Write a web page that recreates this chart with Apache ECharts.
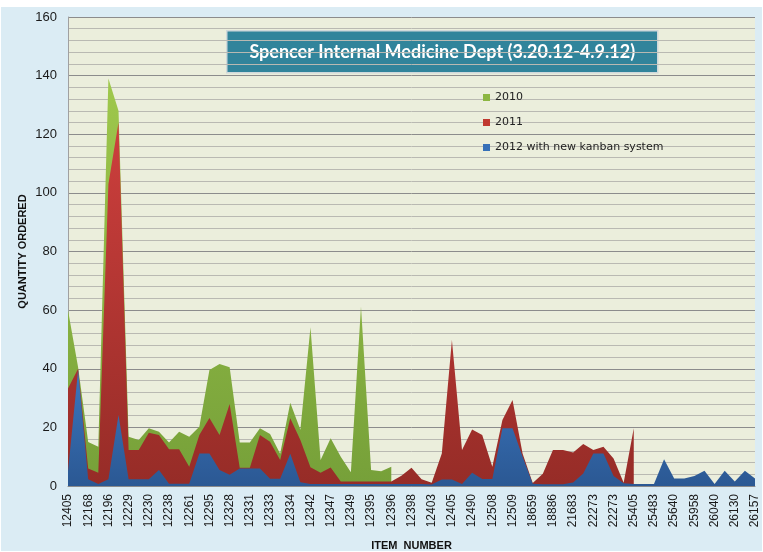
<!DOCTYPE html>
<html>
<head>
<meta charset="utf-8">
<script src="https://cdn.jsdelivr.net/npm/echarts@6/dist/echarts.min.js"></script>
<style>
html,body{margin:0;padding:0;background:#ffffff;}
#chart{width:763px;height:552px;}
</style>
</head>
<body>
<div id="chart"></div>
<script>
// Tick labels shown on the x axis (every other item)
var tickLabels = ['12405','12168','12196','12229','12230','12238','12261','12295','12328','12331','12333','12334','12342','12347','12349','12395','12396','12398','12403','12405','12490','12508','12509','18659','18886','21683','22273','22273','25405','25483','25640','25958','26040','26130','26157'];

var seriesNames = ['2010', '2011', '2012 with new kanban system'];

// 2010 values (ends at item index 32)
var values2010 = [60,40.5,15,13.4,139,128,16.8,15.7,19.7,18.5,14.8,18.5,16.8,20.2,39.6,41.6,40.5,14.8,14.8,19.7,17.7,11,28.4,19.2,54.2,8.9,16.3,10,4.7,61.2,5.5,5,6.6];

// 2011 values (ends at item index 56)
var values2011 = [33.3,40,6,4.5,103,124,12.3,12.3,18.2,17.4,12.5,12.5,6.6,17.4,23.2,17.4,28,6.2,6.2,17.4,15.1,8.9,23.1,15.7,6.4,4.5,6.3,1.5,1.5,1.5,1.5,1.5,1.5,3.5,6.2,2.3,1.1,11.1,49.8,12.3,19.3,17.4,6.6,22.5,29.3,11,1,4.2,12.3,12.3,11.4,14.3,12.3,13.4,9.4,1.1,19.7];

// 2012 values
var values2012 = [5,39.6,2.3,0.7,2.3,24.2,2.3,2.3,2.3,5.5,0.8,0.8,0.8,11.1,11.1,5.5,3.8,6,6,6,2.5,2.5,11,1.3,0.7,0.7,0.7,0.7,0.7,0.7,0.7,0.7,0.7,0.7,0.7,0.7,0.5,2.2,2.2,0.7,4.5,2.4,2.4,19.7,19.7,10,0.8,0.6,0.6,0.6,1.2,4.3,11.1,11.1,3.4,0.9,0.7,0.7,0.7,9.1,2.6,2.6,3.4,5.2,0.7,5.2,1.5,5.2,2.6];

// Build category list: labelled item, then unlabelled item in between
var nCat = values2012.length;
var categories = [];
for (var i = 0; i < nCat; i++) {
  categories.push(i % 2 === 0 ? tickLabels[i / 2] : '');
}
function pad(arr) {
  var out = arr.slice();
  while (out.length < nCat) out.push(null);
  return out;
}

function grad(top, bottom) {
  return {type:'linear', x:0, y:0, x2:0, y2:1, colorStops:[{offset:0, color:top},{offset:1, color:bottom}]};
}

var chart = echarts.init(document.getElementById('chart'));
chart.setOption({
  animation: false,
  backgroundColor: '#ffffff',
  graphic: [
    {type:'rect', z:-10, shape:{x:1, y:7, width:761, height:544}, style:{fill:'#dbecf4'}},
    {type:'group', left:226, top:30, z:100, children:[
      {type:'rect', shape:{x:0, y:0, width:431, height:42}, style:{fill:'#31849b', stroke:'#cfd8da', lineWidth:1.5}},
      {type:'text', x:215.5, y:21, style:{text:'Spencer Internal Medicine Dept (3.20.12-4.9.12)', fill:'#ffffff', font:'bold 18px Lato', textAlign:'center', textVerticalAlign:'middle'}}
    ]}
  ],
  legend: {
    data: seriesNames,
    orient: 'vertical',
    left: 478,
    top: 86,
    itemWidth: 7,
    itemHeight: 7,
    itemGap: 12,
    icon: 'rect',
    textStyle: {fontFamily: 'DejaVu Sans', fontSize: 11, color: '#222222', lineHeight: 13}
  },
  grid: {
    left: 68, right: 8, top: 17, bottom: 66,
    containLabel: false,
    outerBoundsMode: 'none',
    show: true, backgroundColor: '#ebeedc', borderWidth: 0
  },
  xAxis: {
    type: 'category',
    data: categories,
    boundaryGap: false,
    name: 'ITEM  NUMBER',
    nameLocation: 'middle',
    nameGap: 54,
    nameTextStyle: {fontFamily: 'Liberation Sans', fontWeight: 'bold', fontSize: 11, color: '#111111'},
    axisLine: {show: true, lineStyle: {color: '#8a8a8a'}},
    axisTick: {show: false},
    axisLabel: {interval: 0, rotate: 90, margin: 8, fontFamily: 'Liberation Sans', fontSize: 12, color: '#1a1a1a'},
    splitLine: {show: false}
  },
  yAxis: {
    type: 'value',
    min: 0, max: 160, interval: 20,
    name: 'QUANTITY ORDERED',
    nameLocation: 'middle',
    nameGap: 40,
    nameMoveOverlap: false,
    nameRotate: 90,
    nameTextStyle: {fontFamily: 'Liberation Sans', fontWeight: 'bold', fontSize: 11, color: '#111111'},
    axisLine: {show: true, lineStyle: {color: '#a0a0a0'}},
    axisTick: {show: false},
    axisLabel: {margin: 11, fontFamily: 'Liberation Sans', fontSize: 13, color: '#1a1a1a'},
    splitLine: {show: true, lineStyle: {color: '#8c8c8c', width: 1}},
    minorTick: {show: false, splitNumber: 5},
    minorSplitLine: {show: true, lineStyle: {color: '#b9b9b2', width: 1}}
  },
  series: [
    {name: seriesNames[0], type: 'line', data: pad(values2010), symbol: 'none', connectNulls: false,
     itemStyle: {color: '#8cb642'}, lineStyle: {width: 0},
     areaStyle: {color: grad('#9fc84c', '#76a039'), opacity: 1}, z: 2},
    {name: seriesNames[1], type: 'line', data: pad(values2011), symbol: 'none',
     itemStyle: {color: '#c0392f'}, lineStyle: {width: 0},
     areaStyle: {color: grad('#cd3f3d', '#962c27'), opacity: 1}, z: 3},
    {name: seriesNames[2], type: 'line', data: values2012, symbol: 'none',
     itemStyle: {color: '#3670b8'}, lineStyle: {width: 0},
     areaStyle: {color: grad('#3b76be', '#2b5893'), opacity: 1}, z: 4}
  ]
});
</script>
</body>
</html>
